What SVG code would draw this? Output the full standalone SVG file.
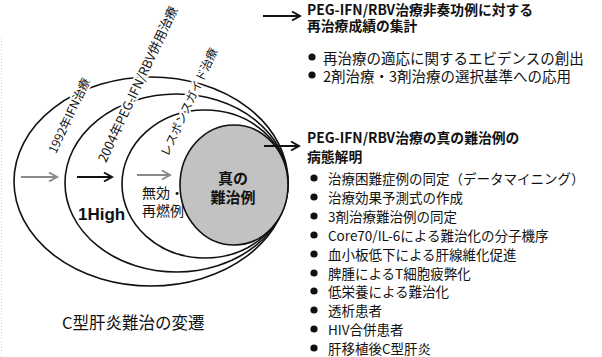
<svg xmlns="http://www.w3.org/2000/svg" width="602" height="357" viewBox="0 0 602 357">
<style>
text{font-family:"Noto Sans CJK JP","Noto Sans",sans-serif;fill:#111;dominant-baseline:central}
.ell{fill:none;stroke:#111;stroke-width:1.6}
.halo{stroke:#fff;stroke-width:4;paint-order:stroke;stroke-linejoin:round}
.rot{font-size:12px}
.hd{font-size:13.8px;font-weight:bold}
.b1{font-size:14.5px}
.b2{font-size:13.5px}
.dot{fill:#111}
.arr{stroke:#111;stroke-width:2;fill:none}
.garr{stroke:#8a8a8a;stroke-width:2;fill:none}
</style>
<defs>
<marker id="ahb" markerUnits="userSpaceOnUse" markerWidth="12" markerHeight="12" refX="10" refY="6" orient="auto">
<path d="M2,1.5 L10,6 L2,10.5" fill="none" stroke="#111" stroke-width="2"/>
</marker>
<marker id="ahg" markerUnits="userSpaceOnUse" markerWidth="12" markerHeight="12" refX="10" refY="6" orient="auto">
<path d="M2,1.5 L10,6 L2,10.5" fill="none" stroke="#8a8a8a" stroke-width="2"/>
</marker>
</defs>
<rect width="602" height="357" fill="#fff"/>
<line x1="1.5" y1="38" x2="1.5" y2="357" stroke="#d8d8d8" stroke-width="1" stroke-dasharray="1,2"/>

<g id="outer-ellipse"><ellipse class="ell" cx="151" cy="181.5" rx="137" ry="104.5"/></g>
<g id="middle-ellipse"><ellipse class="ell" cx="176.5" cy="183" rx="111.5" ry="89"/></g>
<g id="inner-ellipse"><ellipse class="ell" cx="205" cy="184" rx="83" ry="74"/></g>

<g id="label-1992"><text class="rot halo" transform="translate(51,152) rotate(-65)">1992年IFN治療</text></g>
<g id="label-2004"><text class="rot halo" transform="translate(101,161) rotate(-65)" style="font-size:12.8px">2004年PEG-IFN/RBV併用治療</text></g>
<g id="label-response"><text class="rot halo" transform="translate(163,155) rotate(-65)" style="font-size:11.8px">レスポンスガイド治療</text></g>

<g id="label-1high"><text x="78" y="214" style="font-family:'Liberation Sans','Noto Sans',sans-serif;font-size:17px;font-weight:bold">1High</text></g>
<g id="label-mukou"><text x="142" y="192" style="font-size:14px">無効・</text><text x="142" y="210" style="font-size:14px">再燃例</text></g>

<g id="core-circle">
<ellipse cx="234" cy="185" rx="54" ry="60" fill="#c2c2c2" stroke="#111" stroke-width="1.6"/>
<text x="233" y="177" text-anchor="middle" style="font-size:15px;font-weight:bold">真の</text>
<text x="233" y="196" text-anchor="middle" style="font-size:15px;font-weight:bold">難治例</text>
</g>

<g id="connectors">
<line class="garr" x1="21" y1="177" x2="57" y2="177" marker-end="url(#ahg)"/>
<line class="arr" x1="77" y1="177" x2="112" y2="177" stroke-width="2.5" marker-end="url(#ahb)"/>
<line class="garr" x1="137" y1="175" x2="170" y2="175" marker-end="url(#ahg)"/>
<line class="arr" x1="263" y1="16" x2="300" y2="16" marker-end="url(#ahb)"/>
<line class="arr" x1="264" y1="146" x2="299" y2="146" marker-end="url(#ahb)"/>
</g>

<g id="heading-1">
<text class="hd" x="307" y="8.5">PEG-IFN/RBV治療非奏功例に対する</text>
<text class="hd" x="307" y="24.5">再治療成績の集計</text>
</g>
<g id="list-1">
<circle class="dot" cx="312" cy="57" r="3.6"/><text class="b1" x="323" y="57">再治療の適応に関するエビデンスの創出</text>
<circle class="dot" cx="312" cy="75" r="3.6"/><text class="b1" x="323" y="75">2剤治療・3剤治療の選択基準への応用</text>
</g>

<g id="heading-2">
<text class="hd" x="307" y="137">PEG-IFN/RBV治療の真の難治例の</text>
<text class="hd" x="307" y="156">病態解明</text>
</g>
<g id="list-2">
<circle class="dot" cx="314" cy="178" r="3.6"/><text class="b2" x="328" y="178">治療困難症例の同定（データマイニング）</text>
<circle class="dot" cx="314" cy="197" r="3.6"/><text class="b2" x="328" y="197">治療効果予測式の作成</text>
<circle class="dot" cx="314" cy="216" r="3.6"/><text class="b2" x="328" y="216">3剤治療難治例の同定</text>
<circle class="dot" cx="314" cy="235" r="3.6"/><text class="b2" x="328" y="235">Core70/IL-6による難治化の分子機序</text>
<circle class="dot" cx="314" cy="254" r="3.6"/><text class="b2" x="328" y="254">血小板低下による肝線維化促進</text>
<circle class="dot" cx="314" cy="273" r="3.6"/><text class="b2" x="328" y="273">脾腫によるT細胞疲弊化</text>
<circle class="dot" cx="314" cy="291" r="3.6"/><text class="b2" x="328" y="291">低栄養による難治化</text>
<circle class="dot" cx="314" cy="310" r="3.6"/><text class="b2" x="328" y="310">透析患者</text>
<circle class="dot" cx="314" cy="329" r="3.6"/><text class="b2" x="328" y="329">HIV合併患者</text>
<circle class="dot" cx="314" cy="348" r="3.6"/><text class="b2" x="328" y="348">肝移植後C型肝炎</text>
</g>

<g id="caption"><text x="62" y="322" style="font-size:16.5px">C型肝炎難治の変遷</text></g>
</svg>
